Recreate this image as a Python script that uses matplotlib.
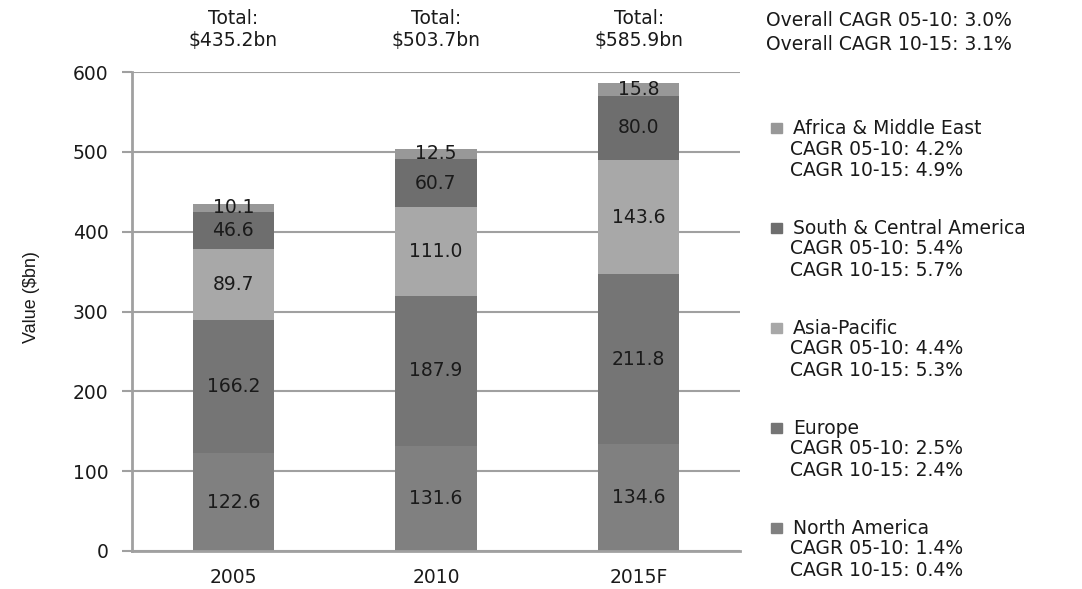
import matplotlib
matplotlib.use("Agg")
import matplotlib.pyplot as plt
import numpy as np
from matplotlib.patches import Rectangle

plt.rcParams['font.family'] = ['DejaVu Sans']

years = ['2005', '2010', '2015F']
series = ['North America', 'Europe', 'Asia-Pacific',
          'South & Central America', 'Africa & Middle East']
north_america = [122.6, 131.6, 134.6]
europe = [166.2, 187.9, 211.8]
asia_pacific = [89.7, 111.0, 143.6]
south_central = [46.6, 60.7, 80.0]
africa_me = [10.1, 12.5, 15.8]
totals = ['$435.2bn', '$503.7bn', '$585.9bn']
cagr_0510 = ['1.4%', '2.5%', '4.4%', '5.4%', '4.2%']
cagr_1015 = ['0.4%', '2.4%', '5.3%', '5.7%', '4.9%']
overall = ['Overall CAGR 05-10: 3.0%', 'Overall CAGR 10-15: 3.1%']

colors = ['#808080', '#757575', '#a8a8a8', '#6e6e6e', '#989898']
values = [north_america, europe, asia_pacific, south_central, africa_me]

W, H = 1082, 589
FS = 13.5
fig = plt.figure(figsize=(W / 100, H / 100), dpi=100)
ax = fig.add_axes([132 / W, 38 / H, 608 / W, 479 / H])

x = np.arange(len(years))
bottom = np.zeros(len(years))
txt = '#1a1a1a'
for vals, c in zip(values, colors):
    ax.bar(x, vals, 0.40, bottom=bottom, color=c, zorder=2)
    for xi, b, v in zip(x, bottom, vals):
        ax.text(xi, b + v / 2, f'{v:.1f}', ha='center', va='center',
                fontsize=FS, color=txt, zorder=3)
    bottom += np.array(vals)

# totals above the plot
for xi, t in zip(x, totals):
    ax.text(xi, 628, 'Total:\n' + t.replace('$', r'\$'), ha='center', va='bottom',
            fontsize=FS, color=txt, linespacing=1.15, clip_on=False)

ax.set_xlim(-0.5, 2.5)
ax.set_ylim(0, 600)
ax.set_yticks(range(0, 601, 100))
ax.set_xticks(x)
ax.set_xticklabels(years)
ax.yaxis.grid(True, color='#a0a0a0', linewidth=1.5, zorder=0)
ax.set_axisbelow(True)
for s in ['top', 'right']:
    ax.spines[s].set_visible(False)
for s in ['left', 'bottom']:
    ax.spines[s].set_color('#a0a0a0')
    ax.spines[s].set_linewidth(2)
ax.tick_params(axis='y', length=7, width=1.5, color='#a0a0a0', labelsize=FS,
               labelcolor=txt, pad=10)
ax.tick_params(axis='x', length=0, labelsize=FS, labelcolor=txt, pad=12)
ax.set_ylabel('Value ($bn)', fontsize=13, color=txt,
              family=['Liberation Sans Narrow', 'Liberation Sans'])
ax.yaxis.set_label_coords(-0.152, 0.53)

# right-hand notes
fig.text(766 / W, 1 - 20 / H, overall[0], fontsize=FS, color=txt, va='center')
fig.text(766 / W, 1 - 44 / H, overall[1], fontsize=FS, color=txt, va='center')

ys = [528, 428, 328, 228, 128]
for name, c, a, b, y in zip(series, colors, cagr_0510, cagr_1015, ys):
    fig.patches.append(Rectangle((771 / W, 1 - (y + 5) / H), 11 / W, 10 / H,
                                 color=c, transform=fig.transFigure))
    fig.text(793 / W, 1 - y / H, name, fontsize=FS, color=txt, va='center')
    fig.text(790 / W, 1 - (y + 21) / H, 'CAGR 05-10: ' + a, fontsize=FS,
             color=txt, va='center')
    fig.text(790 / W, 1 - (y + 43) / H, 'CAGR 10-15: ' + b, fontsize=FS,
             color=txt, va='center')

fig.savefig('out.png', dpi=100)
